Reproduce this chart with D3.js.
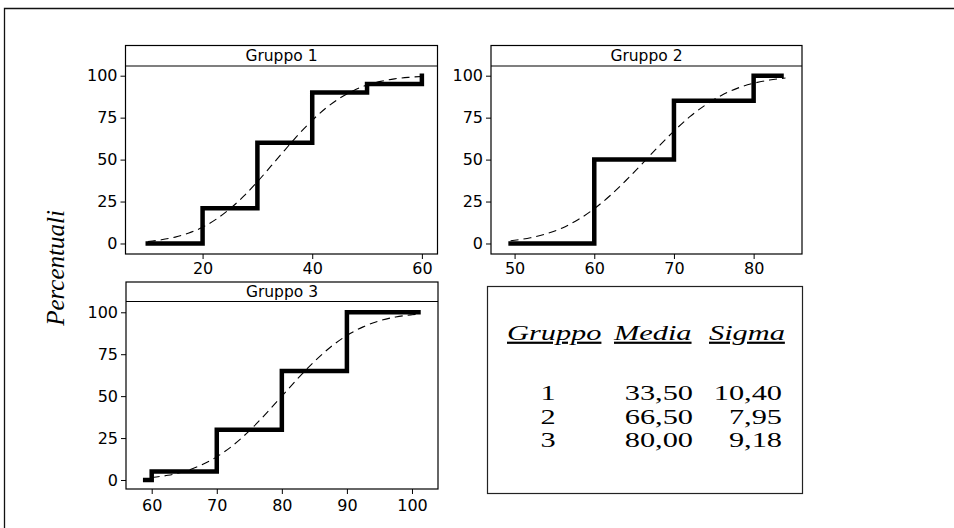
<!DOCTYPE html>
<html><head><meta charset="utf-8">
<script src="https://cdn.jsdelivr.net/npm/d3@7"></script>
<style>
html,body{margin:0;padding:0;background:#fff;}
svg{display:block;}
</style></head>
<body>
<svg id="chart" width="954" height="528"></svg>
<script>
// ---------------- DATA ----------------
const groupNames = ["Gruppo 1", "Gruppo 2", "Gruppo 3"];

// empirical cumulative percentages (step lines)
const stepX1 = [10, 20, 30, 40, 50, 60];
const stepY1 = [0, 21, 60, 90, 95, 100];
const stepX2 = [49.5, 60, 70, 80, 83.5];
const stepY2 = [0, 50, 85, 100, 100];
const stepX3 = [59, 60, 70, 80, 90, 101];
const stepY3 = [0, 5, 30, 65, 100, 100];

// fitted curves (dashed)
const fitX1 = [10, 12.5, 15, 17.5, 20, 22.5, 25, 27.5, 30, 32.5, 35, 37.5, 40, 42.5, 45, 47.5, 50, 52.5, 55, 57.5, 60];
const fitY1 = [1.2, 2.2, 3.8, 6.2, 9.7, 14.5, 20.7, 28.2, 36.8, 46.2, 55.7, 65.0, 73.4, 80.7, 86.6, 91.1, 94.4, 96.6, 98.1, 99.0, 99.5];
const fitX2 = [49.5, 50, 52, 54, 56, 58, 60, 62, 64, 66, 68, 70, 72, 74, 76, 78, 80, 82, 84];
const fitY2 = [1.6, 1.9, 3.4, 5.8, 9.3, 14.3, 20.7, 28.6, 37.7, 47.5, 57.5, 67.0, 75.6, 82.7, 88.4, 92.6, 95.5, 97.4, 98.6];
const fitX3 = [60, 62.5, 65, 67.5, 70, 72.5, 75, 77.5, 80, 82.5, 85, 87.5, 90, 92.5, 95, 97.5, 100, 101];
const fitY3 = [1.5, 2.8, 5.1, 8.7, 13.8, 20.7, 29.3, 39.3, 50.0, 60.7, 70.7, 79.3, 86.2, 91.3, 94.9, 97.2, 98.5, 98.9];

// tick labels
const xTicks1 = [20, 40, 60];
const xTicks2 = [50, 60, 70, 80];
const xTicks3 = [60, 70, 80, 90, 100];
const yTicks = [0, 25, 50, 75, 100];

// summary table
const tableHeaders = ["Gruppo", "Media", "Sigma"];
const tableGroups = [1, 2, 3];
const tableMeans = [33.50, 66.50, 80.00];
const tableSigmas = [10.40, 7.95, 9.18];

const yAxisTitle = "Percentuali";

// ---------------- LAYOUT ----------------
const svg = d3.select("#chart");
const itFmt = d3.formatLocale({decimal: ",", thousands: ".", grouping: [3], currency: ["€", ""]}).format(".2f");

const panels = [
  {name: groupNames[0], sx: stepX1, sy: stepY1, fx: fitX1, fy: fitY1, ticks: xTicks1,
   left: 125.5, right: 437.5, top: 45.5, strip: 66, bottom: 254, xd: [5.94, 62.85], yd: [-6.26, 105.78], pad: 4},
  {name: groupNames[1], sx: stepX2, sy: stepY2, fx: fitX2, fy: fitY2, ticks: xTicks2,
   left: 491, right: 802, top: 45.5, strip: 66, bottom: 254, xd: [47.04, 86.07], yd: [-6.26, 105.78], pad: 4},
  {name: groupNames[2], sx: stepX3, sy: stepY3, fx: fitX3, fy: fitY3, ticks: xTicks3,
   left: 126, right: 438, top: 282, strip: 301.5, bottom: 489, xd: [56.05, 104], yd: [-5.37, 106.43], pad: 6}
];

// outer frame (partial border)
svg.append("path")
  .attr("d", "M4.5,528 V8.5 H954")
  .attr("fill", "none").attr("stroke", "#111").attr("stroke-width", 1.3);

panels.forEach(p => {
  const x = d3.scaleLinear().domain(p.xd).range([p.left, p.right]);
  const y = d3.scaleLinear().domain(p.yd).range([p.bottom, p.strip]);
  const g = svg.append("g");

  // dashed fitted curve
  const fitPts = p.fx.map((v, i) => [v, p.fy[i]]);
  g.append("path")
    .attr("d", d3.line().x(d => x(d[0])).y(d => y(d[1])).curve(d3.curveMonotoneX)(fitPts))
    .attr("fill", "none").attr("stroke", "#000").attr("stroke-width", 1.1)
    .attr("stroke-dasharray", "8,5");

  // step line
  const stepPts = p.sx.map((v, i) => [v, p.sy[i]]);
  g.append("path")
    .attr("d", d3.line().x(d => x(d[0])).y(d => y(d[1])).curve(d3.curveStepAfter)(stepPts))
    .attr("fill", "none").attr("stroke", "#000").attr("stroke-width", 4.5)
    .attr("stroke-linecap", "square").attr("stroke-linejoin", "miter");

  // frame
  g.append("rect")
    .attr("x", p.left).attr("y", p.top)
    .attr("width", p.right - p.left).attr("height", p.bottom - p.top)
    .attr("fill", "none").attr("stroke", "#000").attr("stroke-width", 1.2);
  g.append("line")
    .attr("x1", p.left).attr("x2", p.right).attr("y1", p.strip).attr("y2", p.strip)
    .attr("stroke", "#000").attr("stroke-width", 1.2);
  g.append("text")
    .attr("x", (p.left + p.right) / 2).attr("y", (p.top + p.strip) / 2)
    .attr("dy", "0.36em").attr("text-anchor", "middle")
    .attr("font-family", "'DejaVu Sans', Verdana, sans-serif").attr("font-size", 15.5)
    .text(p.name);

  // axes
  const xa = g.append("g").attr("transform", `translate(0,${p.bottom})`)
    .call(d3.axisBottom(x).tickValues(p.ticks).tickSize(5).tickPadding(p.pad).tickSizeOuter(0));
  const ya = g.append("g").attr("transform", `translate(${p.left},0)`)
    .call(d3.axisLeft(y).tickValues(yTicks).tickSize(5).tickPadding(3).tickSizeOuter(0));
  [xa, ya].forEach(a => {
    a.select(".domain").remove();
    a.selectAll("line").attr("stroke", "#000").attr("stroke-width", 1);
    a.selectAll("text").attr("font-family", "'DejaVu Sans', Verdana, sans-serif")
      .attr("font-size", 16).attr("fill", "#000");
  });
});

// y axis title
svg.append("text")
  .attr("transform", "translate(64,268) rotate(-90)")
  .attr("text-anchor", "middle")
  .attr("font-family", "'Liberation Serif', 'Times New Roman', serif")
  .attr("font-style", "italic").attr("font-size", 25)
  .text(yAxisTitle);

// summary table box
const tb = svg.append("g");
tb.append("rect").attr("x", 487.5).attr("y", 286.5).attr("width", 315).attr("height", 207)
  .attr("fill", "none").attr("stroke", "#222").attr("stroke-width", 1.2);

const serif = "'Liberation Serif', 'Times New Roman', serif";
const stretch = 1.38;
const fs = 22;
const headerX = [507, 614, 709];
tableHeaders.forEach((h, i) => {
  tb.append("text")
    .attr("transform", `translate(${headerX[i]},340) scale(${stretch},1)`)
    .attr("font-family", serif).attr("font-style", "italic").attr("font-size", fs)
    .attr("text-decoration", "underline")
    .text(h);
});
const rowY = [400, 424, 447];
tableGroups.forEach((gv, i) => {
  tb.append("text").attr("transform", `translate(548,${rowY[i]}) scale(${stretch},1)`)
    .attr("text-anchor", "middle").attr("font-family", serif).attr("font-size", fs).text(gv);
  tb.append("text").attr("transform", `translate(693,${rowY[i]}) scale(${stretch},1)`)
    .attr("text-anchor", "end").attr("font-family", serif).attr("font-size", fs).text(itFmt(tableMeans[i]));
  tb.append("text").attr("transform", `translate(782,${rowY[i]}) scale(${stretch},1)`)
    .attr("text-anchor", "end").attr("font-family", serif).attr("font-size", fs).text(itFmt(tableSigmas[i]));
});
</script>
</body></html>
